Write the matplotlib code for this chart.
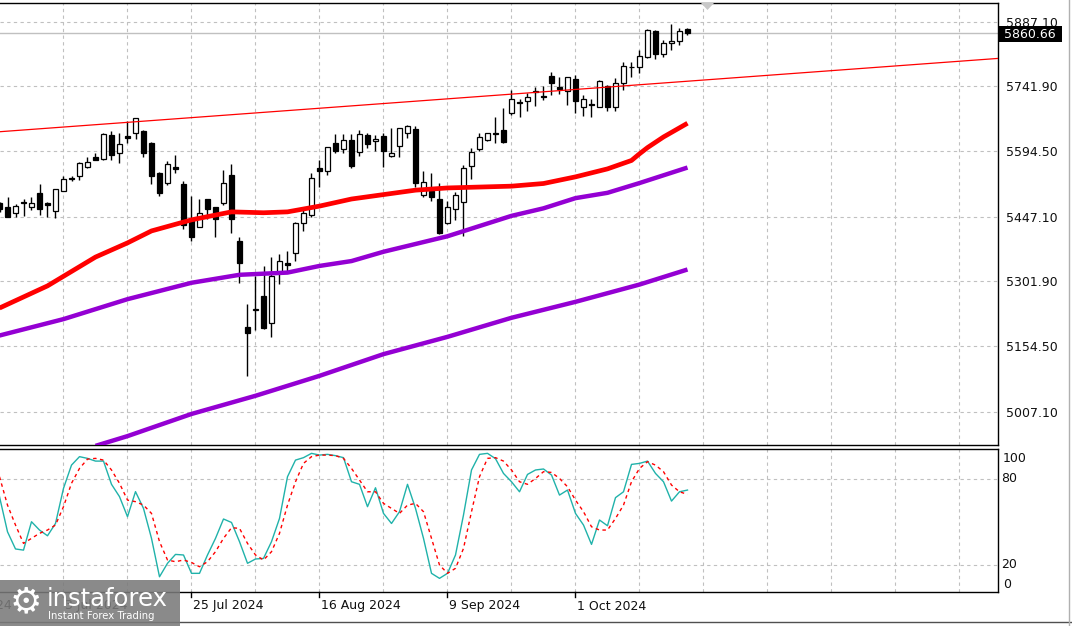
import matplotlib
matplotlib.use('Agg')
import matplotlib.pyplot as plt
import numpy as np
from matplotlib.patches import Rectangle, Polygon
from matplotlib.lines import Line2D
from matplotlib.transforms import blended_transform_factory

# ---------------- data ----------------
bar_index = list(range(-1, 86))
opens = [5477, 5468, 5455, 5480, 5468, 5500, 5477, 5459, 5506, 5534,
         5540, 5559, 5581, 5578, 5632, 5590, 5629, 5635, 5641, 5614,
         5546, 5524, 5559, 5521, 5440, 5423, 5488, 5468, 5479, 5541,
         5392, 5199, 5237, 5268, 5207, 5322, 5342, 5365, 5434, 5450,
         5557, 5550, 5614, 5599, 5620, 5592, 5632, 5617, 5629, 5583,
         5607, 5635, 5644, 5495, 5506, 5486, 5434, 5465, 5480, 5562,
         5599, 5620, 5635, 5643, 5680, 5706, 5709, 5729, 5719, 5765,
         5739, 5731, 5757, 5694, 5701, 5694, 5742, 5695, 5748, 5785,
         5784, 5807, 5867, 5814, 5838, 5844, 5870]
highs = [5481, 5491, 5476, 5486, 5491, 5522, 5480, 5509, 5539, 5539,
         5571, 5581, 5590, 5637, 5641, 5637, 5662, 5669, 5643, 5616,
         5547, 5573, 5587, 5528, 5494, 5488, 5488, 5469, 5553, 5566,
         5402, 5250, 5313, 5336, 5356, 5363, 5370, 5435, 5467, 5546,
         5574, 5604, 5634, 5634, 5634, 5643, 5635, 5632, 5635, 5647,
         5647, 5653, 5652, 5550, 5546, 5524, 5483, 5503, 5563, 5601,
         5637, 5637, 5673, 5692, 5733, 5713, 5726, 5739, 5742, 5774,
         5763, 5763, 5766, 5721, 5713, 5756, 5745, 5759, 5796, 5796,
         5823, 5871, 5868, 5846, 5882, 5873, 5873]
lows = [5458, 5446, 5446, 5449, 5462, 5450, 5446, 5444, 5505, 5527,
        5531, 5557, 5574, 5576, 5575, 5569, 5614, 5622, 5582, 5521,
        5494, 5518, 5545, 5420, 5392, 5423, 5442, 5401, 5473, 5410,
        5298, 5088, 5191, 5193, 5175, 5295, 5319, 5347, 5414, 5446,
        5514, 5542, 5590, 5590, 5557, 5583, 5601, 5595, 5560, 5582,
        5581, 5625, 5514, 5492, 5482, 5407, 5431, 5440, 5404, 5533,
        5596, 5619, 5613, 5613, 5676, 5673, 5685, 5697, 5710, 5721,
        5724, 5700, 5680, 5674, 5673, 5694, 5685, 5686, 5733, 5763,
        5771, 5805, 5804, 5807, 5823, 5834, 5858]
closes = [5464, 5447, 5471, 5478, 5477, 5464, 5473, 5509, 5533, 5533,
          5568, 5571, 5575, 5634, 5587, 5611, 5625, 5669, 5590, 5540,
          5501, 5566, 5554, 5428, 5402, 5455, 5464, 5443, 5523, 5441,
          5342, 5184, 5239, 5196, 5313, 5347, 5337, 5432, 5456, 5535,
          5551, 5604, 5596, 5620, 5562, 5634, 5611, 5623, 5595, 5590,
          5647, 5652, 5524, 5525, 5492, 5410, 5470, 5495, 5557, 5592,
          5626, 5635, 5633, 5616, 5712, 5704, 5717, 5731, 5718, 5748,
          5736, 5762, 5708, 5712, 5699, 5753, 5694, 5748, 5787, 5784,
          5810, 5868, 5814, 5840, 5843, 5865, 5860.66]

ma_red_idx = [-1, 5, 11, 15, 18, 23, 28, 32, 35, 39, 43, 47, 51, 55, 59, 63, 67, 71, 75, 78, 79, 80, 82, 85]
ma_red = [5241, 5291, 5356, 5388, 5415, 5440, 5458, 5456, 5458, 5471, 5487, 5497, 5507, 5512,
          5514, 5516, 5522, 5537, 5555, 5574, 5589, 5603, 5627, 5658]
ma_mid_idx = [-1, 7, 15, 23, 29, 35, 39, 43, 47, 55, 63, 67, 71, 75, 79, 85]
ma_mid = [5179, 5216, 5261, 5298, 5316, 5321, 5336, 5347, 5368, 5403, 5449, 5466, 5489, 5501, 5523, 5558]
ma_low_idx = [11, 15, 23, 31, 39, 47, 55, 63, 71, 79, 85]
ma_low = [4930, 4952, 5002, 5043, 5088, 5137, 5176, 5219, 5255, 5294, 5328]

trend_idx = [-1, 124]
trend_val = [5638.8, 5804.5]

current_price = 5860.66

stoch_main = [67.5, 43.0, 31.0, 30.2, 50.0, 44.2, 40.2, 48.8, 73.3, 89.5,
              95.4, 94.2, 92.3, 92.3, 76.1, 67.5, 53.5, 71.0, 59.3, 38.4,
              11.6, 21.0, 27.2, 26.8, 14.0, 14.0, 26.8, 38.4, 51.9, 49.5,
              36.1, 21.0, 24.0, 24.4, 36.1, 52.3, 81.4, 93.0, 94.7, 97.7,
              96.5, 97.0, 96.1, 94.7, 77.9, 76.1, 60.5, 73.7, 55.8, 48.8,
              57.0, 76.1, 59.3, 38.4, 14.0, 10.5, 14.0, 26.8, 54.7, 86.1,
              97.0, 97.7, 94.0, 83.7, 77.9, 70.9, 83.0, 86.1, 86.8, 82.6,
              68.6, 72.1, 55.8, 47.7, 34.2, 51.2, 47.2, 66.8, 70.9, 90.0,
              90.7, 92.3, 83.7, 77.9, 64.4, 70.9, 72.1]
stoch_signal = [81.4, 61.6, 47.7, 34.9, 38.4, 41.9, 44.2, 47.7, 60.5, 76.8,
                87.2, 93.7, 94.2, 93.0, 86.1, 76.8, 65.1, 64.0, 61.6, 55.8,
                36.1, 23.3, 22.1, 23.3, 21.6, 18.6, 22.1, 29.1, 38.4, 45.8,
                45.4, 34.9, 26.8, 23.3, 29.1, 41.9, 61.6, 77.9, 90.7, 95.4,
                96.5, 96.5, 96.1, 94.2, 87.2, 79.1, 70.9, 70.9, 62.8, 59.3,
                55.8, 61.6, 62.8, 57.0, 38.4, 19.8, 14.0, 17.5, 31.4, 57.0,
                81.4, 94.2, 94.7, 92.3, 86.1, 77.9, 76.1, 80.2, 84.9, 84.4,
                80.2, 74.4, 65.1, 57.0, 46.5, 44.2, 44.2, 52.3, 61.6, 77.9,
                87.2, 91.9, 89.5, 84.9, 75.6, 70.9, 69.1]

price_ticks = [5007.10, 5154.50, 5301.90, 5447.10, 5594.50, 5741.90, 5887.10]
stoch_levels = [20, 80]
stoch_labels = ['100', '80', '20', '0']
date_idx = [-9, 7, 23, 39, 55, 71]
date_labels = ['11 Jun 2024', '3 Jul 2024', '25 Jul 2024', '16 Aug 2024', '9 Sep 2024', '1 Oct 2024']

# ---------------- layout ----------------
W, H = 1072, 626
fig = plt.figure(figsize=(W / 100, H / 100), dpi=100)
fig.patch.set_facecolor('white')


def fx(px):
    return px / W


def fy(py):
    return 1 - py / H


ax = fig.add_axes([0, fy(445), 998 / W, (445 - 3) / H])
sx = fig.add_axes([0, fy(592), 998 / W, (592 - 449) / H])

x_lo, x_hi = -0.9375, 123.8125
grid_pos = list(range(7, 124, 8))
grid_kw = dict(color='#c0c0c0', linestyle=(0, (3, 3)), linewidth=0.8)

for a in (ax, sx):
    a.set_xlim(x_lo, x_hi)
    a.set_facecolor('white')
    a.set_xticks(grid_pos)
    a.tick_params(axis='x', bottom=False, labelbottom=False)
    a.grid(True, **grid_kw)
    a.set_axisbelow(True)
    a.spines['left'].set_visible(False)
    for s in ('top', 'right', 'bottom'):
        a.spines[s].set_color('black')
        a.spines[s].set_linewidth(1.0)

ax.set_ylim(4931.96, 5929.29)
ax.set_yticks(price_ticks)
ax.set_yticklabels(['%.2f' % v for v in price_ticks])
ax.yaxis.tick_right()
ax.tick_params(axis='y', length=0, pad=6, labelsize=9, labelcolor='#101010')

sx.set_ylim(0.98, 100.74)
sx.set_yticks(stoch_levels)
sx.yaxis.tick_right()
sx.tick_params(axis='y', length=0, labelright=False)

# ---------------- price chart ----------------
idx = np.array(bar_index)
o = np.array(opens, float)
h = np.array(highs, float)
l = np.array(lows, float)
c = np.array(closes, float)
up = c >= o

ax.axhline(current_price, color='#c0c0c0', lw=1.0, zorder=2)

ax.vlines(idx, l, h, color='black', lw=1.0, zorder=3)
body_bottom = np.minimum(o, c)
body_h = np.maximum(np.abs(c - o), 1.2)
ax.bar(idx[up], body_h[up], bottom=body_bottom[up], width=0.62,
       color='white', edgecolor='black', linewidth=0.9, zorder=4)
ax.bar(idx[~up], body_h[~up], bottom=body_bottom[~up], width=0.62,
       color='black', edgecolor='black', linewidth=0.9, zorder=4)

ax.plot(ma_low_idx, ma_low, color='#9400D3', lw=3.2, zorder=5, solid_capstyle='butt')
ax.plot(ma_mid_idx, ma_mid, color='#9400D3', lw=3.2, zorder=5, solid_capstyle='butt')
ax.plot(ma_red_idx, ma_red, color='#FF0000', lw=3.4, zorder=5, solid_capstyle='butt')
ax.plot(trend_idx, trend_val, color='#FF0000', lw=0.9, zorder=6)

# ---------------- stochastic ----------------
sx.plot(idx, stoch_main, color='#20B2AA', lw=1.0, zorder=4)
sx.plot(idx, stoch_signal, color='#FF0000', lw=1.0, linestyle=(0, (2.5, 2.5)), zorder=4)

# ---------------- right-hand labels ----------------
fig.add_artist(Rectangle((fx(999), fy(42)), 63 / W, 16 / H, transform=fig.transFigure,
                         facecolor='black', edgecolor='none', zorder=5))
fig.text(fx(1004), fy(34), '%.2f' % current_price, color='white', fontsize=9,
         va='center', ha='left', zorder=6)

for lab, py, px in zip(stoch_labels, [459, 479, 565, 584], [1003, 1001, 1001, 1003]):
    fig.text(fx(px), fy(py), lab, fontsize=9, va='center', ha='left', color='#101010')

# ---------------- date axis ----------------
bt = blended_transform_factory(sx.transData, fig.transFigure)
for k, lab in zip(date_idx, date_labels):
    fig.add_artist(Line2D([k, k], [fy(592), fy(597)], transform=bt, color='black', lw=1.0))
    fig.text(0, fy(606), lab, fontsize=9, va='center', ha='left', color='#101010',
             transform=blended_transform_factory(sx.transData, fig.transFigure)).set_x(k + 0.15)

# window edges
fig.add_artist(Line2D([fx(0), fx(W)], [fy(622), fy(622)], transform=fig.transFigure,
                      color='#505050', lw=1.0))
fig.add_artist(Line2D([fx(1068.5), fx(1068.5)], [0, 1], transform=fig.transFigure,
                      color='#b0b0b0', lw=1.0))

# shift marker triangle
fig.add_artist(Polygon([[fx(701), fy(3)], [fx(714), fy(3)], [fx(707.5), fy(10)]],
                       closed=True, transform=fig.transFigure, facecolor='#c8c8c8',
                       edgecolor='none', zorder=5))

# ---------------- logo ----------------
fig.add_artist(Rectangle((0, fy(626)), 180 / W, 46 / H, transform=fig.transFigure,
                         facecolor='#7a7a7a', edgecolor='none', alpha=0.88, zorder=10))
fig.text(fx(26), fy(602), '\u2699', color='white', fontsize=26, ha='center', va='center',
         zorder=11, family='DejaVu Sans')
fig.text(fx(47), fy(599), 'instaforex', color='white', fontsize=17.5, ha='left', va='center',
         zorder=11)
fig.text(fx(48), fy(616), 'Instant Forex Trading', color='white', fontsize=7.3, ha='left',
         va='center', zorder=11)

fig.savefig('out.png', dpi=100, facecolor='white')
